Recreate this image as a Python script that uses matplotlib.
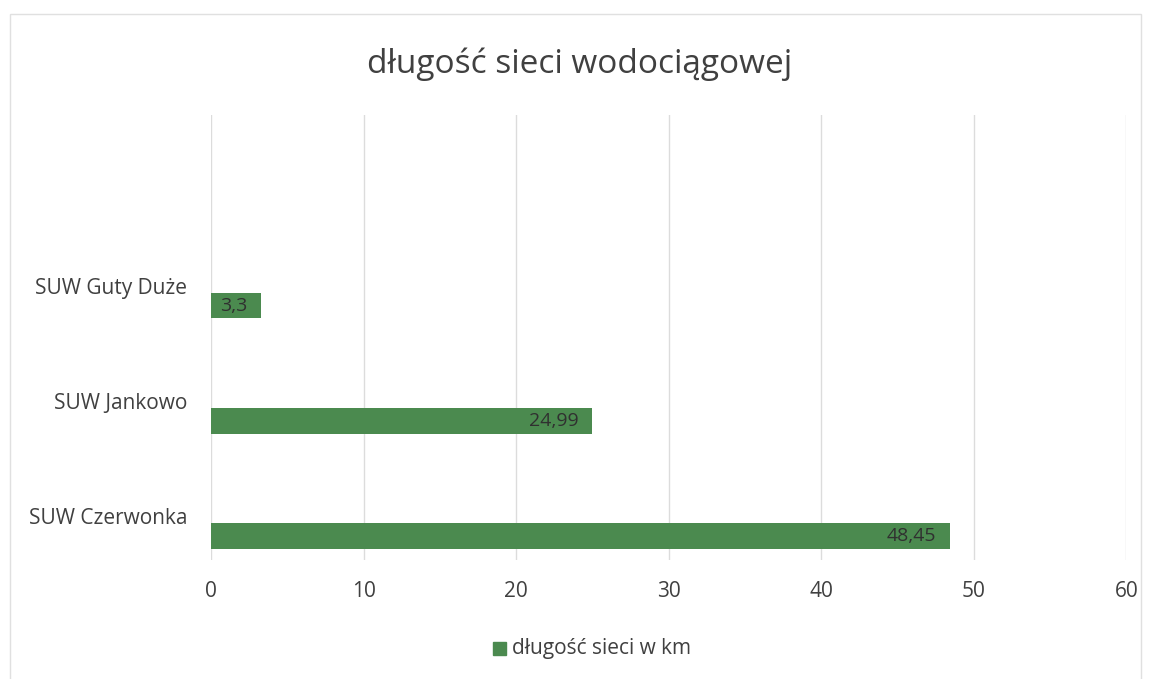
import matplotlib.pyplot as plt
from matplotlib.patches import Rectangle

# data
categories = ["SUW Czerwonka", "SUW Jankowo", "SUW Guty Duże"]
lengths = [48.45, 24.99, 3.3]
value_labels = ["48,45", "24,99", "3,3"]
x_ticks = [0, 10, 20, 30, 40, 50, 60]

plt.rcParams["font.family"] = ["Open Sans", "DejaVu Sans"]

bar_color = "#4b8a4f"
text_color = "#404040"


def main():
    fig = plt.figure(figsize=(11.53, 6.79), dpi=100)
    ax = fig.add_axes([0.183, 0.175, 0.794, 0.656])

    pos = list(range(len(categories)))
    bar_pos = [p - 0.17 for p in pos]

    bars = ax.barh(bar_pos, lengths, height=0.22, color=bar_color, zorder=3)

    for rect, lab in zip(bars, value_labels):
        ax.text(
            rect.get_width() - 0.9,
            rect.get_y() + rect.get_height() / 2,
            lab,
            ha="right",
            va="center",
            fontsize=14,
            color="#303030",
            zorder=4,
        )

    ax.set_xlim(0, 60)
    ax.set_ylim(-0.38, 3.49)
    ax.set_xticks(x_ticks)
    ax.set_xticklabels([str(t) for t in x_ticks], fontsize=15, color=text_color)
    ax.set_yticks(pos)
    ax.set_yticklabels(categories, fontsize=15, color=text_color)

    ax.tick_params(axis="x", length=0, pad=15)
    ax.tick_params(axis="y", length=0, pad=17)

    ax.grid(axis="x", color="#dcdcdc", lw=1, zorder=0)
    for s in ax.spines.values():
        s.set_visible(False)

    fig.text(0.503, 0.906, "długość sieci wodociągowej", ha="center", va="center",
             fontsize=24, color=text_color)

    # legend
    fig.patches.append(Rectangle((0.428, 0.036), 0.011, 0.019, transform=fig.transFigure,
                                 color=bar_color, figure=fig))
    fig.text(0.444, 0.045, "długość sieci w km", ha="left", va="center",
             fontsize=15, color=text_color)

    # chart border
    fig.patches.append(Rectangle((0.009, -0.01), 0.981, 0.99, transform=fig.transFigure,
                                 fill=False, edgecolor="#e0e0e0", lw=1, figure=fig))

    fig.savefig("out.png", dpi=100)


if __name__ == "__main__":
    main()
